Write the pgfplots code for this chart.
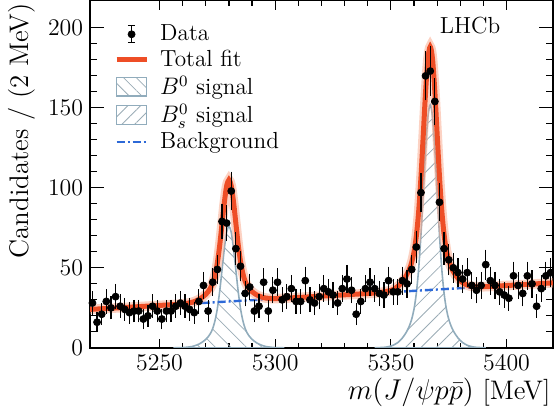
\documentclass[border=0pt]{standalone}
\usepackage{fontspec}
\usepackage{pgfplots}
\pgfplotsset{compat=1.18}
\usepackage{pgfplotstable}
\usetikzlibrary{patterns.meta}
\definecolor{fitcol}{RGB}{238,78,38}
\definecolor{glowcol}{RGB}{250,165,135}
\definecolor{sigcol}{RGB}{145,172,188}
\definecolor{hatchcol}{RGB}{155,172,182}
\definecolor{bkgcol}{RGB}{45,105,215}

\pgfplotstableread{
m n e
5221 28 5.29
5223 16 4.00
5225 21 4.58
5227 29 5.39
5229 25 5.00
5231 32 5.66
5233 26 5.10
5235 24 4.90
5237 22 4.69
5239 23 4.80
5241 23 4.80
5243 18 4.24
5245 20 4.47
5247 26 5.10
5249 23 4.80
5251 18 4.24
5253 23 4.80
5255 23 4.80
5257 26 5.10
5259 28 5.29
5261 26 5.10
5263 24 4.90
5265 22 4.69
5267 29 5.39
5269 39 6.24
5271 23 4.80
5273 41 6.40
5275 49 7.00
5277 79 8.89
5279 78 8.83
5281 98 9.90
5283 62 7.87
5285 51 7.14
5287 34 5.83
5289 38 6.16
5291 23 4.80
5293 26 5.10
5295 41 6.40
5297 23 4.80
5299 36 6.00
5301 41 6.40
5303 30 5.48
5305 32 5.66
5307 37 6.08
5309 29 5.39
5311 29 5.39
5313 42 6.48
5315 30 5.48
5317 28 5.29
5319 32 5.66
5321 37 6.08
5323 35 5.92
5325 33 5.74
5327 28 5.29
5329 37 6.08
5331 43 6.56
5333 36 6.00
5335 21 4.58
5337 29 5.39
5339 37 6.08
5341 41 6.40
5343 37 6.08
5345 34 5.83
5347 33 5.74
5349 42 6.48
5351 35 5.92
5353 35 5.92
5355 42 6.48
5357 40 6.32
5359 49 7.00
5361 63 7.94
5363 97 9.85
5365 170 13.04
5367 173 13.15
5369 154 12.41
5371 91 9.54
5373 62 7.87
5375 55 7.42
5377 50 7.07
5379 47 6.86
5381 43 6.56
5383 47 6.86
5385 39 6.24
5387 36 6.00
5389 39 6.24
5391 52 7.21
5393 42 6.48
5395 39 6.24
5397 35 5.92
5399 33 5.74
5401 31 5.57
5403 45 6.71
5405 39 6.24
5407 34 5.83
5409 45 6.71
5411 40 6.32
5413 26 5.10
5415 37 6.08
5417 45 6.71
5419 47 6.86
}\datatable

\begin{document}
\begin{tikzpicture}
\begin{axis}[name=ax, scale only axis, width=231.8bp, height=173.9bp,
  xmin=5220, xmax=5420, ymin=0, ymax=217,
  xtick={5250,5300,5350,5400}, ytick={0,50,100,150,200},
  minor x tick num=4, minor y tick num=4,
  tick align=inside, xtick pos=both, ytick pos=both,
  major tick length=4.5bp, minor tick length=2.5bp,
  ytick style={/pgfplots/major tick length=7bp,/pgfplots/minor tick length=3.5bp},
  every tick/.style={black, line width=0.6bp},
  axis line style={line width=0.7bp, black},
  tick label style={font=\fontsize{11.7}{14}\selectfont},
  /pgf/number format/set thousands separator={},
  xlabel={$m(J/\psi p\bar{p})$ [MeV]},
  ylabel={Candidates / (2 MeV)},
  xlabel style={at={(axis description cs:0.9957,-0.087)}, anchor=north east, inner sep=0pt, font=\fontsize{13.5}{16}\selectfont},
  ylabel style={at={(axis description cs:-0.118,0.994)}, anchor=south east, inner sep=0pt, font=\fontsize{13.5}{16}\selectfont},
  legend style={at={(axis description cs:0.051,0.943)}, anchor=north west, draw=none, fill=none, inner sep=0pt,
    font=\fontsize{11.7}{14}\selectfont, row sep=-0.8bp,
    /tikz/every odd column/.append style={column sep=3.6bp}},
  legend cell align=left,
]
% B0 signal
\addplot[forget plot, draw=sigcol, line width=0.8bp, pattern={Lines[angle=-45,distance=5.5bp,line width=0.4bp]}, pattern color=hatchcol, smooth] coordinates {
(5256,0.0) (5260,0.15) (5262,0.4) (5264,0.8) (5265,1.2) (5266,1.7) (5267,2.3) (5268,3.1) (5269,4.1) (5270,5.3)
(5271,6.9) (5272,9.0) (5273,12.1) (5274,17.1) (5275,24.6) (5276,35.3) (5277,48.5) (5278,61.9) (5279,72.2) (5280,76.0)
(5281,72.2) (5282,61.9) (5283,48.5) (5284,35.3) (5285,24.6) (5286,17.1) (5287,12.1) (5288,9.0) (5289,6.9) (5290,5.3)
(5291,4.1) (5292,3.1) (5293,2.3) (5294,1.7) (5295,1.2) (5296,0.8) (5298,0.4) (5300,0.15) (5304,0.0)
} \closedcycle;
% Bs signal
\addplot[forget plot, draw=sigcol, line width=0.8bp, pattern={Lines[angle=45,distance=5.5bp,line width=0.4bp]}, pattern color=hatchcol, smooth] coordinates {
(5343,0.0) (5347,0.3) (5349,0.73) (5351,1.6) (5352,2.4) (5353,3.3) (5354,4.6) (5355,6.2) (5356,8.2) (5357,10.6)
(5358,13.7) (5359,17.95) (5360,24.2) (5361,34.1) (5362,49.3) (5363,70.7) (5364,97.1) (5365,123.9) (5366,144.3) (5367,152.0)
(5368,144.3) (5369,123.9) (5370,97.1) (5371,70.7) (5372,49.3) (5373,34.1) (5374,24.2) (5375,17.95) (5376,13.7) (5377,10.6)
(5378,8.2) (5379,6.2) (5380,4.6) (5381,3.3) (5382,2.4) (5383,1.6) (5385,0.73) (5387,0.3) (5391,0.0)
} \closedcycle;
% background
\addplot[forget plot, bkgcol, line width=1.2bp, dash pattern=on 4bp off 1.5bp on 1bp off 1.5bp] coordinates {(5220,24.0) (5420,40.6)};
% total fit (glow + core)
\addplot[forget plot, glowcol, line width=4.8bp, opacity=0.5, smooth] coordinates {
(5220,24.0) (5230,24.83) (5240,25.66) (5250,26.5) (5255,26.93) (5260,27.47) (5264,28.45) (5266,29.52) (5268,31.08) (5270,33.45) (5271,35.13) (5272,37.31) (5273,40.5) (5274,45.58) (5275,53.16) (5276,63.95) (5277,77.23) (5278,90.71) (5279,101.1) (5280,104.98) (5281,101.26) (5282,91.04) (5283,77.73) (5284,64.61) (5285,54.0) (5286,46.58) (5287,41.66) (5288,38.64) (5289,36.63) (5290,35.11) (5292,33.08) (5294,31.84) (5296,31.11) (5300,30.79) (5310,31.47) (5320,32.30) (5330,33.13) (5340,33.96) (5345,34.49) (5350,35.9) (5352,37.35) (5354,39.72) (5356,43.49) (5358,49.15) (5359,53.49) (5360,59.82) (5361,69.8) (5362,85.09) (5363,106.57) (5364,133.05) (5365,159.94) (5366,180.42) (5367,188.2) (5368,180.59) (5369,160.27) (5370,133.55) (5371,107.24) (5372,85.92) (5373,70.8) (5374,60.98) (5375,54.82) (5376,50.65) (5377,47.63) (5378,45.32) (5380,41.88) (5382,39.85) (5384,38.72) (5386,38.25) (5390,38.18) (5400,38.94) (5410,39.77) (5420,40.6)
};
\addplot[forget plot, fitcol, line width=2.5bp, smooth] coordinates {
(5220,24.0) (5230,24.83) (5240,25.66) (5250,26.5) (5255,26.93) (5260,27.47) (5264,28.45) (5266,29.52) (5268,31.08) (5270,33.45) (5271,35.13) (5272,37.31) (5273,40.5) (5274,45.58) (5275,53.16) (5276,63.95) (5277,77.23) (5278,90.71) (5279,101.1) (5280,104.98) (5281,101.26) (5282,91.04) (5283,77.73) (5284,64.61) (5285,54.0) (5286,46.58) (5287,41.66) (5288,38.64) (5289,36.63) (5290,35.11) (5292,33.08) (5294,31.84) (5296,31.11) (5300,30.79) (5310,31.47) (5320,32.30) (5330,33.13) (5340,33.96) (5345,34.49) (5350,35.9) (5352,37.35) (5354,39.72) (5356,43.49) (5358,49.15) (5359,53.49) (5360,59.82) (5361,69.8) (5362,85.09) (5363,106.57) (5364,133.05) (5365,159.94) (5366,180.42) (5367,188.2) (5368,180.59) (5369,160.27) (5370,133.55) (5371,107.24) (5372,85.92) (5373,70.8) (5374,60.98) (5375,54.82) (5376,50.65) (5377,47.63) (5378,45.32) (5380,41.88) (5382,39.85) (5384,38.72) (5386,38.25) (5390,38.18) (5400,38.94) (5410,39.77) (5420,40.6)
};
% data
\addplot[forget plot, only marks, mark=*, mark size=1.75bp, black,
  error bars/.cd, y dir=both, y explicit,
  error bar style={line width=0.6bp, black},
  error mark options={black, line width=0.6bp, mark size=1.8bp}]
  table[x=m, y=n, y error=e]{\datatable};

\addlegendimage{legend image code/.code={
  \draw[black,line width=0.6bp] (7.5bp,-4.3bp)--(7.5bp,4.3bp) (5.7bp,-4.3bp)--(9.3bp,-4.3bp) (5.7bp,4.3bp)--(9.3bp,4.3bp);
  \fill[black] (7.5bp,0) circle[radius=1.75bp];}}
\addlegendentry{Data}
\addlegendimage{legend image code/.code={\draw[fitcol,line width=2.5bp] (0,0)--(15bp,0);}}
\addlegendentry{Total fit}
\addlegendimage{legend image code/.code={\draw[sigcol,line width=0.8bp,pattern={Lines[angle=-45,distance=4.5bp,line width=0.4bp]},pattern color=hatchcol] (0,-4.7bp) rectangle (15bp,4.7bp);}}
\addlegendentry{$B^0$ signal}
\addlegendimage{legend image code/.code={\draw[sigcol,line width=0.8bp,pattern={Lines[angle=45,distance=4.5bp,line width=0.4bp]},pattern color=hatchcol] (0,-4.7bp) rectangle (15bp,4.7bp);}}
\addlegendentry{$B_s^0$ signal}
\addlegendimage{legend image code/.code={\draw[bkgcol,line width=1.2bp,dash pattern=on 4bp off 1.5bp on 1bp off 1.5bp] (0,0)--(15bp,0);}}
\addlegendentry{Background}

\node[font=\fontsize{11.7}{14}\selectfont, anchor=center] at (axis description cs:0.821,0.929) {LHCb};
\end{axis}
\path ([xshift=-45.15bp,yshift=-31.85bp]ax.south west) rectangle (ax.north east);
\end{tikzpicture}
\end{document}
